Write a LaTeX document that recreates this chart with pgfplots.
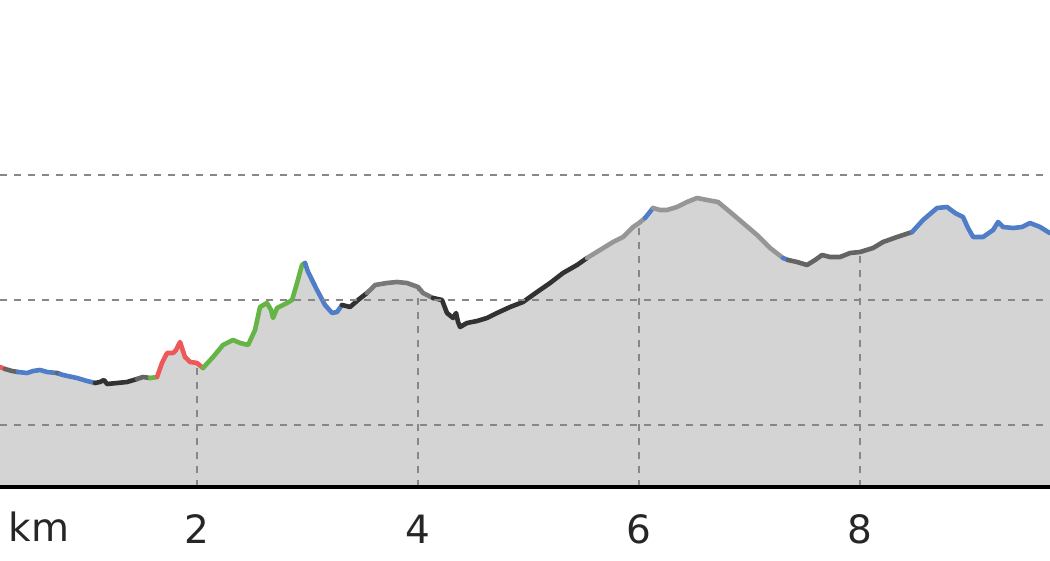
\documentclass[border=0pt]{standalone}
\usepackage{fontspec}
\setmainfont{DejaVu Sans}
\usepackage{pgfplots}
\usepackage{pgfplotstable}
\pgfplotsset{compat=1.18}

\definecolor{segred}{RGB}{238,88,88}
\definecolor{seggreen}{RGB}{100,180,70}
\definecolor{segblue}{RGB}{80,125,200}
\definecolor{segdark}{RGB}{50,50,50}
\definecolor{segmid}{RGB}{100,100,100}
\definecolor{seggrey}{RGB}{120,120,120}
\definecolor{seglight}{RGB}{150,150,150}
\definecolor{areafill}{RGB}{212,212,212}
\definecolor{gridgrey}{RGB}{135,135,135}

% distance (km) vs elevation
\pgfplotstableread{
km ele
0.217 146.4
0.262 144.8
0.326 143.2
0.380 142.4
0.462 141.6
0.516 143.2
0.579 144.0
0.643 142.4
0.733 141.6
0.760 140.8
0.787 140.0
0.914 137.6
1.005 135.2
1.077 133.6
1.122 134.4
1.158 136.0
1.186 132.8
1.276 133.6
1.367 134.4
1.457 136.8
1.511 138.4
1.575 137.6
1.638 138.4
1.683 149.6
1.729 157.6
1.783 157.6
1.810 160.0
1.846 166.4
1.891 154.4
1.937 150.4
2.000 149.6
2.054 145.6
2.145 154.4
2.235 164.0
2.326 168.0
2.389 165.6
2.462 164.0
2.525 176.0
2.570 194.4
2.633 197.6
2.670 192.0
2.688 185.6
2.724 193.6
2.814 197.6
2.860 200.0
2.905 213.6
2.950 228.0
2.977 229.6
3.005 222.4
3.086 208.0
3.158 196.0
3.222 189.6
3.267 190.4
3.312 196.0
3.385 194.4
3.457 200.0
3.538 205.6
3.611 212.0
3.719 213.6
3.810 214.4
3.900 213.6
4.000 210.4
4.045 205.6
4.136 201.6
4.217 200.0
4.262 189.6
4.317 185.6
4.344 189.6
4.362 182.4
4.380 178.4
4.443 181.6
4.534 183.2
4.624 185.6
4.715 189.6
4.833 194.4
4.950 198.4
5.077 206.4
5.195 213.6
5.312 221.6
5.439 228.0
5.529 233.6
5.647 240.0
5.765 246.4
5.855 250.4
5.946 258.4
6.000 261.6
6.054 265.6
6.127 273.6
6.190 272.0
6.253 272.0
6.344 274.4
6.434 278.4
6.525 281.6
6.615 280.0
6.715 278.4
6.824 270.4
6.941 261.6
7.068 252.0
7.186 241.6
7.303 233.6
7.348 232.0
7.430 230.4
7.520 228.0
7.593 232.0
7.656 236.0
7.729 234.4
7.819 234.4
7.910 237.6
8.000 238.4
8.118 241.6
8.208 246.4
8.335 250.4
8.471 254.4
8.570 264.0
8.697 273.6
8.787 274.4
8.860 269.6
8.932 266.4
8.977 257.6
9.023 250.4
9.113 250.4
9.204 256.0
9.249 262.4
9.294 258.4
9.385 257.6
9.466 258.4
9.538 261.6
9.629 258.4
9.701 254.4
9.719 253.6
}\profile

\newcommand{\ticksize}{\fontsize{39pt}{40pt}\selectfont}
\tikzset{profseg/.style={line width=4.6pt, line join=round, line cap=round}}

\begin{document}
\begin{tikzpicture}
\useasboundingbox (0,-73pt) rectangle (1050pt,487pt);
\begin{axis}[
  scale only axis,
  width=1050pt, height=487pt,
  xmin=0.217, xmax=9.719,
  ymin=50.4, ymax=440,
  axis on top,
  axis x line=bottom,
  axis y line=left,
  x axis line style={black, line width=3.5pt, -},
  y axis line style={draw=none},
  xtick={2,4,6,8},
  xticklabels={2,4,6,8},
  ytick={100,200,300},
  yticklabels={},
  tick style={draw=none},
  ymajorgrids,
  grid style={gridgrey, line width=2.3pt, dash pattern=on 7pt off 7pt},
  xticklabel style={anchor=base, yshift=-54pt, font=\ticksize, text=black!85},
]
\addplot[fill=areafill, draw=none] table {\profile} \closedcycle;
\addplot[ycomb, gridgrey, line width=2.3pt, dash pattern=on 7pt off 7pt, mark=none]
  coordinates {(2,149.6) (4,210.4) (6,261.6) (8,238.4)};

\addplot[profseg, segred,   restrict x to domain=0.217:0.262] table {\profile};
\addplot[profseg, segmid,   restrict x to domain=0.262:0.380] table {\profile};
\addplot[profseg, segblue,  restrict x to domain=0.380:0.733] table {\profile};
\addplot[profseg, segmid,   restrict x to domain=0.733:0.760] table {\profile};
\addplot[profseg, segblue,  restrict x to domain=0.760:1.077] table {\profile};
\addplot[profseg, segdark,  restrict x to domain=1.077:1.457] table {\profile};
\addplot[profseg, segmid,   restrict x to domain=1.457:1.575] table {\profile};
\addplot[profseg, seggreen, restrict x to domain=1.575:1.638] table {\profile};
\addplot[profseg, segred,   restrict x to domain=1.638:2.054] table {\profile};
\addplot[profseg, seggreen, restrict x to domain=2.054:2.977] table {\profile};
\addplot[profseg, segblue,  restrict x to domain=2.977:3.312] table {\profile};
\addplot[profseg, segdark,  restrict x to domain=3.312:3.538] table {\profile};
\addplot[profseg, seggrey,  restrict x to domain=3.538:4.136] table {\profile};
\addplot[profseg, segdark,  restrict x to domain=4.136:5.529] table {\profile};
\addplot[profseg, seglight, restrict x to domain=5.529:6.054] table {\profile};
\addplot[profseg, segblue,  restrict x to domain=6.054:6.127] table {\profile};
\addplot[profseg, seglight, restrict x to domain=6.127:7.303] table {\profile};
\addplot[profseg, segblue,  restrict x to domain=7.303:7.348] table {\profile};
\addplot[profseg, segmid,   restrict x to domain=7.348:8.471] table {\profile};
\addplot[profseg, segblue,  restrict x to domain=8.471:9.719] table {\profile};
\end{axis}
\node[anchor=base west, font=\ticksize, text=black!85] at (5pt,-54pt) {km};
\end{tikzpicture}
\end{document}
